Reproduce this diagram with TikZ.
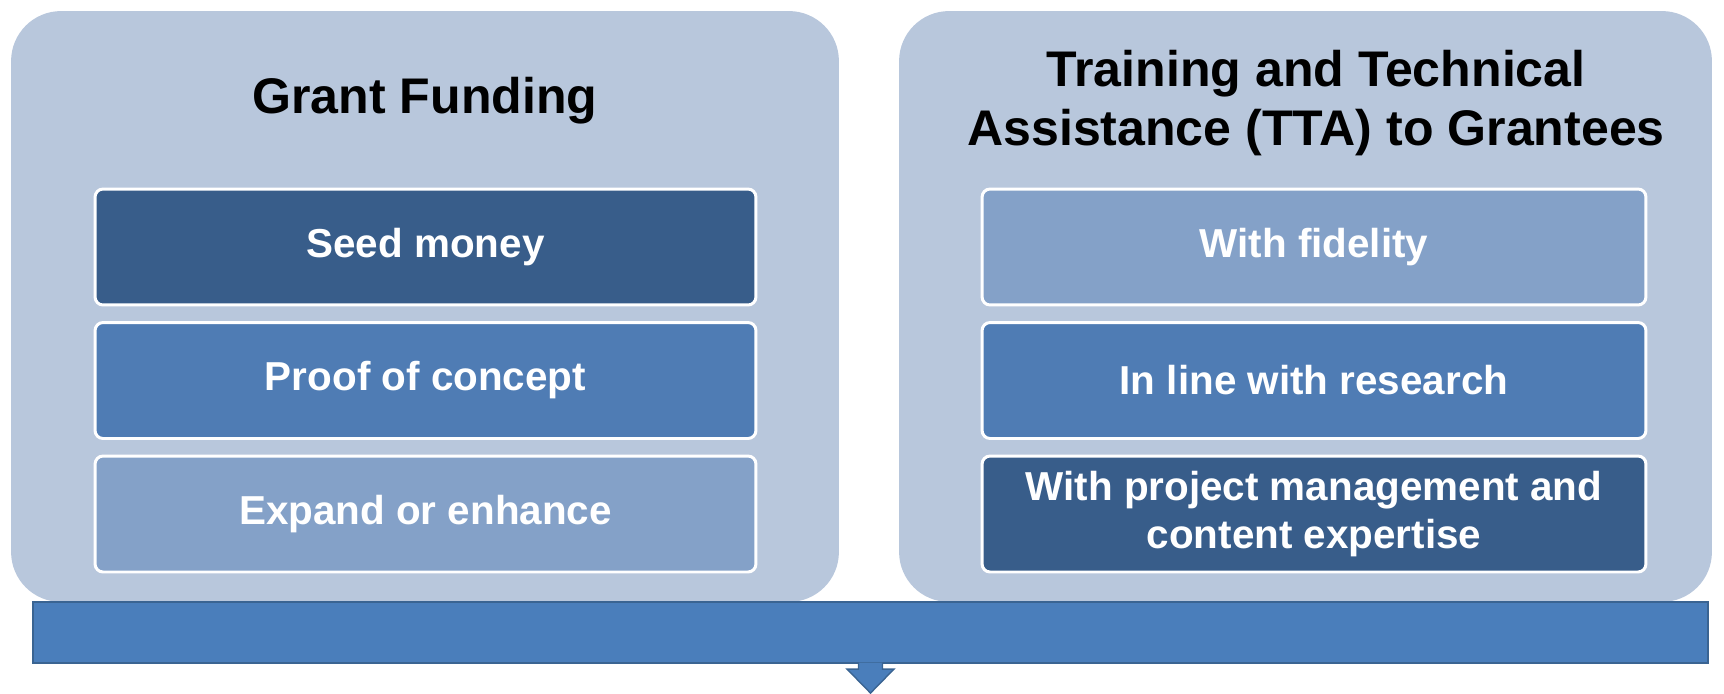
\documentclass[tikz,border=0pt]{standalone}
\usepackage{fontspec}
\setmainfont{Liberation Sans}
\usetikzlibrary{positioning}
\definecolor{panelfill}{HTML}{B8C7DC}
\definecolor{darkbox}{HTML}{385D8A}
\definecolor{midbox}{HTML}{4F7CB4}
\definecolor{lightbox}{HTML}{84A1C8}
\definecolor{barfill}{HTML}{4A7EBB}
\definecolor{barline}{HTML}{3A6492}
\tikzset{
  panel/.style={shape=rectangle, fill=panelfill, rounded corners=1cm, inner sep=0, minimum height=11.82cm},
  paneltitle/.style={anchor=center, align=center, inner sep=0, font=\fontsize{28.5}{34}\selectfont\bfseries},
  itembox/.style={shape=rectangle, draw=white, line width=1.7pt, rounded corners=0.16cm, inner sep=0, minimum height=2.32cm, text=white, align=center, font=\fontsize{23}{27}\selectfont\bfseries}
}
\begin{document}
\begin{tikzpicture}[x=0.02cm, y=-0.02cm]
        \useasboundingbox (0,0) rectangle (1724,693);
        % Panels:
        \node[panel, minimum width=16.56cm] (grant) at (425, 306.5){};
        \node[panel, minimum width=16.26cm] (tta) at (1305.5, 306.5){};
        \node[paneltitle] (granttitle) at (425, 101){Grant Funding};
        \node[paneltitle] (ttatitle) at (1316, 103){Training and Technical\\Assistance (TTA) to Grantees};
        % Items, left:
        \node[itembox, fill=darkbox, minimum width=13.22cm] (seed) at (425.5, 247){Seed money};
        \node[itembox, fill=midbox, minimum width=13.22cm] (proof) at (425.5, 380.5){Proof of concept};
        \node[itembox, fill=lightbox, minimum width=13.22cm] (expand) at (425.5, 514){Expand or enhance};
        % Items, right:
        \node[itembox, fill=lightbox, minimum width=13.28cm] (fidelity) at (1314, 247){With fidelity};
        \node[itembox, fill=midbox, minimum width=13.28cm] (research) at (1314, 380.5){In line with research};
        \node[itembox, fill=darkbox, minimum width=13.28cm] (expertise) at (1314, 514){With project management and\\content expertise};
        % Bar and arrow:
        \node[shape=rectangle, fill=barfill, draw=barline, line width=1.2pt, inner sep=0, minimum width=33.5cm, minimum height=1.22cm] (bar) at (870.5, 632.5){};
        \filldraw[fill=barfill, draw=barline, line width=0.8pt] ([xshift=-0.24cm, yshift=0.03cm]bar.south) -- ++(0,6.5) -- ++(-11.5,0) -- ++(23.5,24) -- ++(23.5,-24) -- ++(-11.5,0) -- ++(0,-6.5);
      \end{tikzpicture}
\end{document}
